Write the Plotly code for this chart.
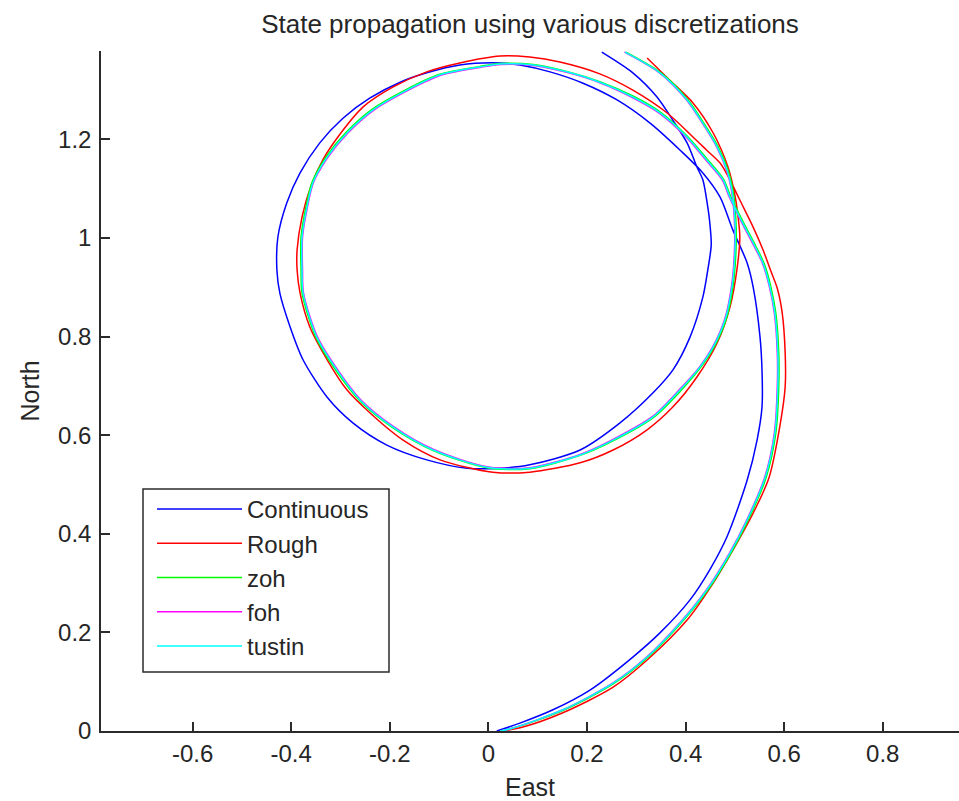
import plotly.graph_objects as go

# ---------------- data (East / North) ----------------
continuous_x = [0.017, 0.064, 0.131, 0.206, 0.293, 0.348, 0.409, 0.449, 0.484, 0.525,
                0.545, 0.555, 0.555, 0.551, 0.537, 0.525, 0.496, 0.470, 0.435, 0.389,
                0.328, 0.261, 0.192, 0.125, 0.064, 0.024, -0.058, -0.125, -0.179, -0.240,
                -0.295, -0.342, -0.382, -0.409, -0.427, -0.429, -0.423, -0.402, -0.376, -0.327,
                -0.275, -0.206, -0.125, -0.043, 0.024, 0.084, 0.186, 0.267, 0.334, 0.374,
                0.409, 0.435, 0.445, 0.452, 0.449, 0.445, 0.435, 0.423, 0.403, 0.374,
                0.342, 0.293, 0.230]
continuous_y = [0.000, 0.016, 0.043, 0.083, 0.150, 0.199, 0.266, 0.327, 0.394, 0.509,
                0.590, 0.657, 0.732, 0.799, 0.901, 0.949, 1.016, 1.083, 1.132, 1.178,
                1.233, 1.280, 1.314, 1.337, 1.351, 1.355, 1.351, 1.335, 1.316, 1.284,
                1.243, 1.193, 1.132, 1.071, 1.002, 0.935, 0.888, 0.819, 0.753, 0.677,
                0.625, 0.580, 0.550, 0.533, 0.533, 0.540, 0.570, 0.625, 0.686, 0.732,
                0.799, 0.880, 0.935, 0.986, 1.032, 1.063, 1.118, 1.144, 1.193, 1.239,
                1.286, 1.335, 1.377]

rough_x = [0.030, 0.070, 0.151, 0.253, 0.322, 0.403, 0.456, 0.496, 0.537, 0.569,
           0.591, 0.602, 0.602, 0.596, 0.586, 0.573, 0.557, 0.537, 0.510, 0.490,
           0.470, 0.443, 0.415, 0.362, 0.293, 0.226, 0.145, 0.084, 0.024, -0.058,
           -0.125, -0.194, -0.254, -0.300, -0.335, -0.360, -0.378, -0.388, -0.388, -0.382,
           -0.362, -0.327, -0.287, -0.240, -0.173, -0.098, 0.009, 0.084, 0.186, 0.253,
           0.322, 0.374, 0.423, 0.464, 0.490, 0.504, 0.510, 0.506, 0.500, 0.486,
           0.456, 0.415, 0.368, 0.322]
rough_y = [0.000, 0.008, 0.037, 0.089, 0.144, 0.225, 0.300, 0.367, 0.442, 0.513,
           0.617, 0.698, 0.767, 0.848, 0.898, 0.933, 0.976, 1.022, 1.077, 1.118,
           1.152, 1.178, 1.205, 1.254, 1.300, 1.333, 1.357, 1.367, 1.369, 1.355,
           1.337, 1.306, 1.266, 1.212, 1.160, 1.105, 1.043, 0.976, 0.935, 0.888,
           0.819, 0.753, 0.692, 0.645, 0.590, 0.550, 0.525, 0.525, 0.544, 0.570,
           0.611, 0.657, 0.718, 0.787, 0.860, 0.935, 1.002, 1.047, 1.087, 1.144,
           1.213, 1.274, 1.320, 1.365]

zoh_x = [0.024, 0.051, 0.152, 0.254, 0.323, 0.390, 0.445, 0.492, 0.527, 0.563,
         0.583, 0.589, 0.589, 0.583, 0.573, 0.559, 0.539, 0.518, 0.492, 0.477,
         0.444, 0.403, 0.348, 0.293, 0.226, 0.159, 0.091, 0.024, -0.017, -0.099,
         -0.167, -0.236, -0.289, -0.329, -0.358, -0.370, -0.380, -0.380, -0.378, -0.350,
         -0.309, -0.261, -0.195, -0.112, -0.003, 0.084, 0.186, 0.254, 0.335, 0.391,
         0.431, 0.458, 0.482, 0.496, 0.502, 0.502, 0.496, 0.486, 0.466, 0.437,
         0.405, 0.350, 0.279]
zoh_y = [0.000, 0.006, 0.042, 0.096, 0.149, 0.218, 0.286, 0.361, 0.428, 0.513,
         0.604, 0.698, 0.767, 0.848, 0.901, 0.949, 0.990, 1.030, 1.083, 1.119,
         1.160, 1.207, 1.256, 1.288, 1.317, 1.338, 1.352, 1.354, 1.348, 1.332,
         1.301, 1.261, 1.214, 1.165, 1.112, 1.063, 1.002, 0.935, 0.888, 0.799,
         0.731, 0.670, 0.616, 0.569, 0.534, 0.532, 0.559, 0.589, 0.636, 0.691,
         0.738, 0.779, 0.834, 0.901, 0.970, 1.037, 1.097, 1.138, 1.185, 1.233,
         1.280, 1.335, 1.377]

foh_x = [0.024, 0.050, 0.151, 0.252, 0.321, 0.388, 0.442, 0.489, 0.524, 0.560,
         0.580, 0.586, 0.586, 0.580, 0.570, 0.556, 0.536, 0.515, 0.489, 0.475,
         0.442, 0.402, 0.347, 0.292, 0.226, 0.159, 0.091, 0.024, -0.017, -0.097,
         -0.164, -0.233, -0.286, -0.326, -0.355, -0.367, -0.377, -0.377, -0.375, -0.347,
         -0.306, -0.259, -0.193, -0.111, -0.003, 0.084, 0.186, 0.252, 0.333, 0.388,
         0.428, 0.455, 0.479, 0.493, 0.499, 0.499, 0.493, 0.483, 0.463, 0.434,
         0.402, 0.347, 0.276]
foh_y = [0.000, 0.006, 0.043, 0.097, 0.150, 0.219, 0.286, 0.361, 0.428, 0.513,
         0.604, 0.698, 0.767, 0.848, 0.901, 0.949, 0.989, 1.029, 1.082, 1.117,
         1.157, 1.204, 1.253, 1.285, 1.315, 1.336, 1.350, 1.352, 1.346, 1.330,
         1.299, 1.259, 1.212, 1.163, 1.112, 1.063, 1.002, 0.935, 0.888, 0.800,
         0.733, 0.672, 0.618, 0.571, 0.536, 0.534, 0.561, 0.591, 0.638, 0.693,
         0.738, 0.779, 0.834, 0.901, 0.970, 1.037, 1.097, 1.138, 1.185, 1.233,
         1.280, 1.335, 1.377]

tustin_x = [0.024, 0.050, 0.151, 0.253, 0.322, 0.389, 0.443, 0.490, 0.525, 0.561,
            0.581, 0.587, 0.587, 0.581, 0.571, 0.557, 0.537, 0.516, 0.490, 0.476,
            0.443, 0.403, 0.348, 0.293, 0.226, 0.159, 0.091, 0.024, -0.017, -0.098,
            -0.165, -0.234, -0.287, -0.327, -0.356, -0.368, -0.378, -0.378, -0.376, -0.348,
            -0.307, -0.260, -0.194, -0.112, -0.003, 0.084, 0.186, 0.253, 0.334, 0.389,
            0.429, 0.456, 0.480, 0.494, 0.500, 0.500, 0.494, 0.484, 0.464, 0.435,
            0.403, 0.348, 0.277]
tustin_y = [0.000, 0.006, 0.043, 0.097, 0.150, 0.219, 0.286, 0.361, 0.428, 0.513,
            0.604, 0.698, 0.767, 0.848, 0.901, 0.949, 0.990, 1.030, 1.083, 1.118,
            1.158, 1.205, 1.254, 1.286, 1.316, 1.337, 1.351, 1.353, 1.347, 1.331,
            1.300, 1.260, 1.213, 1.164, 1.112, 1.063, 1.002, 0.935, 0.888, 0.799,
            0.732, 0.671, 0.617, 0.570, 0.535, 0.533, 0.560, 0.590, 0.637, 0.692,
            0.738, 0.779, 0.834, 0.901, 0.970, 1.037, 1.097, 1.138, 1.185, 1.233,
            1.280, 1.335, 1.377]

series_names = ["Continuous", "Rough", "zoh", "foh", "tustin"]
series_colors = ["#0000ff", "#ff0000", "#00ff00", "#ff00ff", "#00ffff"]

x_tick_vals = [-0.6, -0.4, -0.2, 0, 0.2, 0.4, 0.6, 0.8]
x_tick_text = ["-0.6", "-0.4", "-0.2", "0", "0.2", "0.4", "0.6", "0.8"]
y_tick_vals = [0, 0.2, 0.4, 0.6, 0.8, 1, 1.2]
y_tick_text = ["0", "0.2", "0.4", "0.6", "0.8", "1", "1.2"]

# ---------------- figure ----------------
FONT = "Liberation Sans, Arial, Helvetica, sans-serif"
TXT = "#262626"
AX = "#2b2b2b"

all_x = [continuous_x, rough_x, zoh_x, foh_x, tustin_x]
all_y = [continuous_y, rough_y, zoh_y, foh_y, tustin_y]

fig = go.Figure()
for name, color, xs, ys in zip(series_names, series_colors, all_x, all_y):
    fig.add_trace(go.Scatter(x=xs, y=ys, mode="lines", name=name,
                             line=dict(color=color, width=1.5, shape="spline", smoothing=0.8)))

axis_common = dict(showgrid=False, zeroline=False, showline=True, linecolor=AX,
                   linewidth=1.5, ticks="inside", ticklen=9, tickwidth=1.5,
                   tickcolor=AX, mirror=False, automargin=False,
                   tickfont=dict(family=FONT, size=24, color=TXT))

fig.update_layout(
    width=959, height=801, autosize=False,
    margin=dict(l=101, r=0, t=51, b=70, autoexpand=False),
    paper_bgcolor="white", plot_bgcolor="white",
    font=dict(family=FONT, size=24, color=TXT),
    title=dict(text="State propagation using various discretizations",
               x=0.5, xref="paper", xanchor="center",
               y=1 - 24 / 801, yref="container", yanchor="middle",
               font=dict(family=FONT, size=26, color=TXT)),
    xaxis=dict(range=[-0.7858, 0.9546], tickvals=x_tick_vals, ticktext=x_tick_text,
               title=dict(text="East", standoff=15, font=dict(family=FONT, size=25, color=TXT)),
               ticklabelstandoff=0, **axis_common),
    yaxis=dict(range=[0, 1.3793], tickvals=y_tick_vals, ticktext=y_tick_text,
               title=dict(text="North", standoff=11, font=dict(family=FONT, size=25, color=TXT)),
               ticklabelstandoff=3, **axis_common),
    legend=dict(x=(152 - 101) / 858, y=(731 - 487) / 680, xanchor="left", yanchor="top",
                bgcolor="rgba(0,0,0,0)", borderwidth=0,
                font=dict(family=FONT, size=24, color=TXT),
                itemwidth=85, tracegroupgap=0),
    showlegend=True,
    hovermode=False,
    shapes=[dict(type="rect", xref="paper", yref="paper",
                 x0=(143 - 101) / 858, x1=(389 - 101) / 858,
                 y0=(731 - 672) / 680, y1=(731 - 489) / 680,
                 line=dict(color=AX, width=1.5), fillcolor="rgba(0,0,0,0)", layer="above")],
)

fig.write_html("out.html", config={"displayModeBar": False},
               post_script="document.body.style.margin='0';")
